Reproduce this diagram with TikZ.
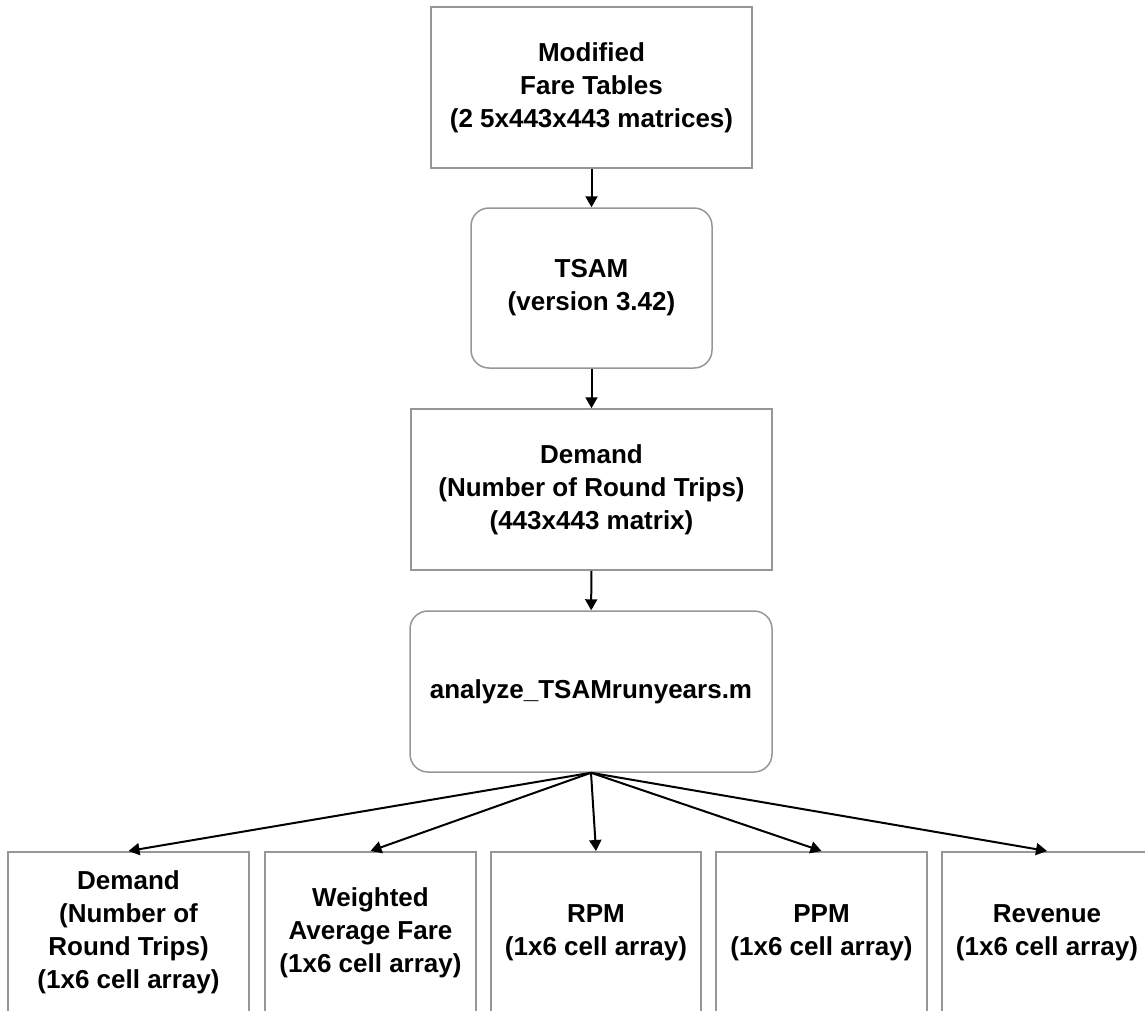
\documentclass[tikz,border=0pt]{standalone}
\usepackage{fontspec}
\setmainfont{Liberation Sans}
\usetikzlibrary{arrows.meta}
\definecolor{boxgray}{RGB}{150,150,150}

\begin{document}
\begin{tikzpicture}[x=1pt,y=-1pt]
\tikzstyle{box}=[draw=boxgray,line width=1.5pt,align=center,inner sep=0pt,font=\bfseries\fontsize{26}{33}\selectfont]
\tikzstyle{rbox}=[box,rounded corners=18pt]
\tikzstyle{outbox}=[box,anchor=north,minimum height=162]
\tikzstyle{link}=[line width=2pt,-{Triangle[length=11pt,width=12pt]}]
\useasboundingbox (0,0) rectangle (1145,1010);
\clip (0,0) rectangle (1145,1010);
\node [box,minimum width=321,minimum height=161] (fare) at (591.5,87.5) {Modified\\ Fare Tables\\(2 5x443x443 matrices)};
\node [rbox,minimum width=241,minimum height=160] (tsam) at (591.5,288) {TSAM\\(version 3.42)};
\node [box,minimum width=361,minimum height=161] (demand) at (591.5,489.5) {Demand\\(Number of Round Trips)\\(443x443 matrix)};
\node [rbox,minimum width=362,minimum height=161] (analyze) at (591,691.5) {analyze\_TSAMrunyears.m};
\node [outbox,minimum width=241] (outdem) at (128.5,851) {Demand\\(Number of\\Round Trips)\\(1x6 cell array)};
\node [outbox,minimum width=211] (outfare) at (370.5,851) {Weighted\\Average Fare\\(1x6 cell array)};
\node [outbox,minimum width=210] (outrpm) at (596,851) {RPM\\(1x6 cell array)};
\node [outbox,minimum width=211] (outppm) at (821.5,851) {PPM\\(1x6 cell array)};
\node [outbox,minimum width=210] (outrev) at (1047,851) {Revenue\\(1x6 cell array)};
\draw [link] (fare) -- (tsam);
\draw [link] (tsam) -- (demand);
\draw [link] (demand) -- (analyze);
\foreach \n in {outdem,outfare,outrpm,outppm,outrev}
  \draw [link] (analyze.south) -- (\n.north);
\end{tikzpicture}
\end{document}
